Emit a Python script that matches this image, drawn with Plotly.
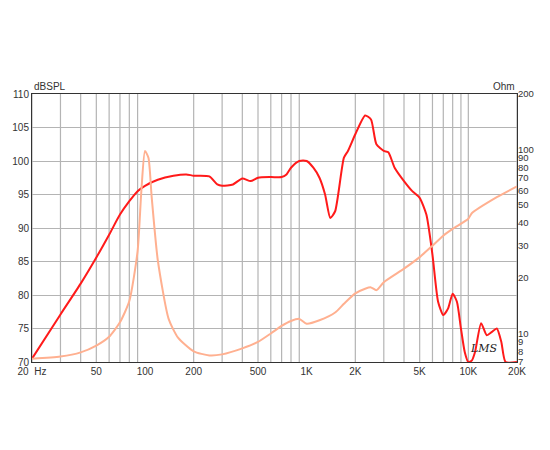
import plotly.graph_objects as go
import numpy as np

spl_f = [20,30,40,50,60,70,80,90,100,120,150,180,200,250,280,300,350,400,450,500,600,700,750,800,900,1000,1100,1200,1300,1400,1500,1700,1800,2000,2300,2500,2700,3000,3200,3500,4000,4500,5000,5500,6000,6500,7000,7500,8000,8500,9000,9500,10000,10500,11000,12000,13000,14000,15000,16000,17000,20000]
spl_db = [70.5,77.1,81.7,85.6,89,92,94,95.5,96.3,97.2,97.8,98,97.8,97.7,96.5,96.3,96.5,97.4,97,97.5,97.6,97.6,98,99,100,100,99,97.5,95,91.5,92.5,100.5,101.5,104,106.8,106.2,102.5,101.5,101.3,99,97,95.5,94.5,92,86,79,77,78,80.2,79,75,71.5,70,70.2,71.5,75.8,74,74.5,75,73,70,70]

imp_f = [20,30,40,50,60,70,80,90,95,100,105,110,120,140,160,200,250,300,400,500,600,700,800,900,1000,1200,1500,1700,2000,2300,2500,2700,3000,4000,5000,6000,7000,8000,10000,10500,15000,20000]
imp_ohm = [7.3,7.5,7.9,8.6,9.6,11.5,15,28,60,98,90,55,25,12,9.5,8,7.6,7.7,8.3,9,10,11,11.7,12,11.3,11.8,13,14.5,16.5,17.5,17.8,17.2,19,22.5,26,30,34,37,42,45,55,63]

grid_f = [v*m for m in (10,100,1000) for v in range(2,10)] + [10000,20000]
grid_f = [g for g in grid_f if 20 <= g <= 20000]
tick_f = [20,50,100,200,500,1000,2000,5000,10000,20000]
tick_t = ["20  Hz","50","100","200","500","1K","2K","5K","10K","20K"]
ohm_ticks = [7,8,9,10,20,30,40,50,60,70,80,90,100,200]

fig = go.Figure()
for g in grid_f:
    fig.add_shape(type="line", x0=g, x1=g, y0=70, y1=110, xref="x", yref="y",
                  line=dict(color="#b4b4b4", width=1.2), layer="below")
fig.add_trace(go.Scatter(x=imp_f, y=imp_ohm, yaxis="y2", mode="lines",
                         line=dict(color="#ffb090", width=2, shape="spline", smoothing=0.6)))
fig.add_trace(go.Scatter(x=spl_f, y=spl_db, mode="lines",
                         line=dict(color="#ff1a1a", width=2, shape="spline", smoothing=0.6)))
fig.update_layout(
    width=550, height=450, showlegend=False,
    plot_bgcolor="white", paper_bgcolor="white",
    margin=dict(l=24, r=41, t=86, b=96, autoexpand=False),
    font=dict(family="Liberation Sans, Arial", size=10, color="#333"),
    xaxis=dict(type="log", range=[np.log10(20), np.log10(20000)], tickvals=tick_f, ticktext=tick_t,
               showgrid=False, showline=True, linecolor="#333", mirror=True, ticks="", automargin=False),
    yaxis=dict(range=[70,110], dtick=5, showgrid=True, gridcolor="#b4b4b4", showline=True,
               linecolor="#333", mirror=True, ticks="", zeroline=False, automargin=False),
    yaxis2=dict(type="log", range=[np.log10(7), np.log10(200)], overlaying="y", side="right",
                tickvals=ohm_ticks, ticktext=[str(t) for t in ohm_ticks], showgrid=False, ticks="",
                zeroline=False, automargin=False, tickfont=dict(size=9.5)),
    annotations=[
        dict(text="dBSPL", x=0, y=1, xref="paper", yref="paper", xanchor="left", yanchor="bottom", showarrow=False, yshift=0),
        dict(text="Ohm", x=1, y=1, xref="paper", yref="paper", xanchor="right", yanchor="bottom", showarrow=False, yshift=0),
        dict(text="<i>LMS</i>", x=0.965, y=0.02, xref="paper", yref="paper", xanchor="right", yanchor="bottom",
             showarrow=False, font=dict(size=11, color="#222", family="DejaVu Serif")),
    ],
)
fig.write_html("out.html")
